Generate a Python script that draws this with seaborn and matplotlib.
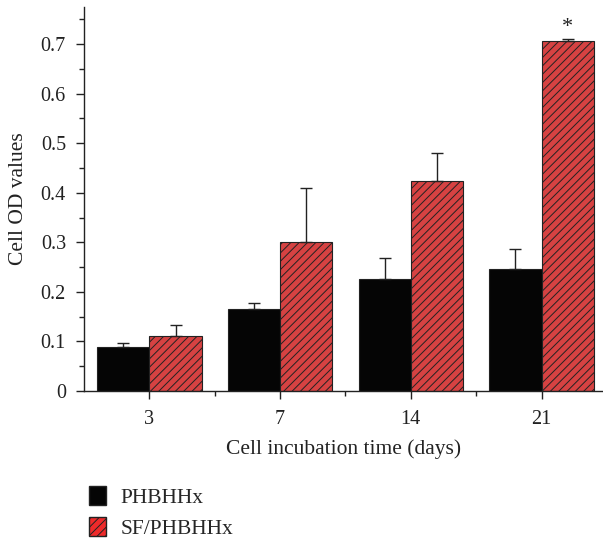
import matplotlib
matplotlib.use("Agg")
import matplotlib.pyplot as plt
import seaborn as sns
import pandas as pd
from matplotlib.patches import Patch
from matplotlib.ticker import MultipleLocator

days = ["3", "7", "14", "21"]
phbhhx = [0.089, 0.165, 0.226, 0.247]
phbhhx_err = [0.008, 0.013, 0.043, 0.039]
sf_phbhhx = [0.110, 0.301, 0.424, 0.706]
sf_phbhhx_err = [0.024, 0.109, 0.056, 0.005]
series = ["PHBHHx", "SF/PHBHHx"]

sns.set_theme(style="ticks")
plt.rcParams['font.family'] = ['Liberation Serif', 'DejaVu Serif']
plt.rcParams['hatch.linewidth'] = 0.7
plt.rcParams['hatch.color'] = "#1a1a1a"

df = pd.DataFrame({
    "day": days * 2,
    "value": phbhhx + sf_phbhhx,
    "err": phbhhx_err + sf_phbhhx_err,
    "series": [series[0]] * 4 + [series[1]] * 4,
})

fig = plt.figure(figsize=(6.03, 5.43), dpi=100)
ax = fig.add_axes([84/603, 1 - 391/543, 1 - 84/603, (391 - 7)/543])

red = "#ee2a2a"
sns.barplot(data=df, x="day", y="value", hue="series", order=days,
            hue_order=series, palette=["#050505", red], errorbar=None,
            width=0.8, ax=ax, legend=False, edgecolor="#222222", linewidth=0.8)

bars = list(ax.patches)
for i, p in enumerate(bars):
    s = i // 4
    k = i % 4
    vals = phbhhx if s == 0 else sf_phbhhx
    errs = phbhhx_err if s == 0 else sf_phbhhx_err
    if s == 1:
        p.set_hatch("////")
    cx = p.get_x() + p.get_width() / 2
    ax.errorbar([cx], [vals[k]], yerr=[[0], [errs[k]]], fmt="none",
                ecolor="#222222", elinewidth=1.0, capsize=4, capthick=1.0, zorder=1)

# significance star
star_bar = bars[4 + 3]
ax.text(star_bar.get_x() + star_bar.get_width() / 2, sf_phbhhx[3] + sf_phbhhx_err[3] + 0.004,
        "*", ha="center", va="bottom", fontsize=16, color="#222222")

ax.set_xlim(-0.5, 3.47)
ax.set_ylim(0, 0.775)
ax.yaxis.set_minor_locator(MultipleLocator(0.05))
ax.set_yticks([0, 0.1, 0.2, 0.3, 0.4, 0.5, 0.6, 0.7])
ax.set_yticklabels(["0", "0.1", "0.2", "0.3", "0.4", "0.5", "0.6", "0.7"])
ax.set_xticks([0, 1, 2, 3], minor=False)
ax.set_xticks([0.5, 1.5, 2.5], minor=True)
ax.set_xticklabels(days)
ax.tick_params(axis="both", which="major", direction="out", length=6, width=1.0,
               labelsize=14.5, colors="#222222", pad=7)
ax.tick_params(axis="both", which="minor", direction="out", length=3.5, width=1.0, colors="#222222")
ax.tick_params(axis="x", which="major", pad=8)
for side in ["top", "right"]:
    ax.spines[side].set_visible(False)
for side in ["left", "bottom"]:
    ax.spines[side].set_linewidth(1.0)
    ax.spines[side].set_color("#222222")
ax.set_xlabel("Cell incubation time (days)", fontsize=15.5, color="#222222", labelpad=7)
ax.set_ylabel("Cell OD values", fontsize=15.5, color="#222222", labelpad=9)
ax.patch.set_alpha(0)

handles = [Patch(facecolor="#050505", edgecolor="#222222", label=series[0]),
           Patch(facecolor=red, edgecolor="#222222", hatch="////", label=series[1])]
fig.legend(handles=handles, loc="upper left", bbox_to_anchor=(80/603, 1 - 477/543),
           frameon=False, fontsize=15.5, handlelength=0.8, handleheight=1.0,
           labelspacing=0.42, handletextpad=0.7, borderaxespad=0)

fig.savefig("out.png", dpi=100)
